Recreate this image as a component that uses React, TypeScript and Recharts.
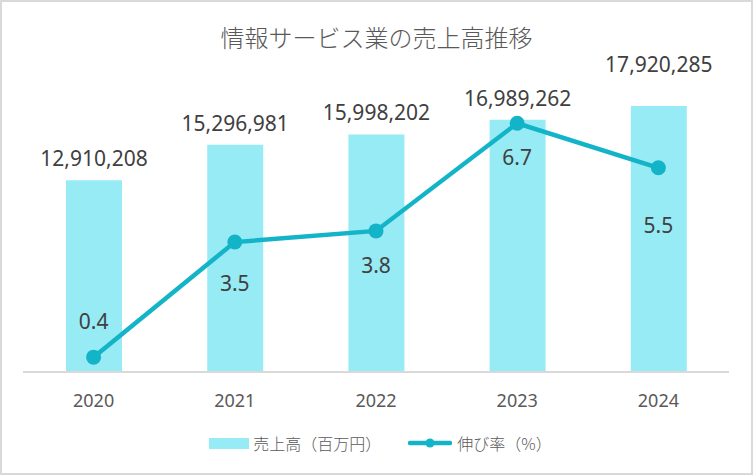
import React from 'react';
import { ComposedChart, Bar, Line, XAxis, YAxis, Legend, LabelList } from 'recharts';

const years = ['2020', '2021', '2022', '2023', '2024'];
const sales = [12910208, 15296981, 15998202, 16989262, 17920285];
const growth = [0.4, 3.5, 3.8, 6.7, 5.5];
const seriesNames = { sales: '売上高（百万円）', growth: '伸び率（%）' };
const legendOrder = ['sales', 'growth'];

// label placement (style only)
const barLabelLift = [22, 22, 22, 22, 42];
const lineLabelShift = [-36, 41, 34, 34, 57];

const data = years.map((year, i) => ({ year, sales: sales[i], growth: growth[i] }));

const numFont = '"Noto Sans", "Noto Sans CJK JP", sans-serif';
const cjkFont = '"Noto Sans CJK JP", "Noto Sans", sans-serif';
const BAR_COLOR = '#97EBF5';
const LINE_COLOR = '#14B4C8';

function BarValueLabel(props: any) {
  const { x, y, width, value, index } = props;
  return (
    <text
      x={Number(x) + Number(width) / 2}
      y={Number(y) - barLabelLift[index]}
      textAnchor="middle"
      dominantBaseline="central"
      fill="#404040"
      fontSize={21}
      fontFamily={numFont}
    >
      {Number(value).toLocaleString('en-US')}
    </text>
  );
}

function LineValueLabel(props: any) {
  const { x, y, value, index } = props;
  return (
    <text
      x={Number(x)}
      y={Number(y) + lineLabelShift[index]}
      textAnchor="middle"
      dominantBaseline="central"
      fill="#404040"
      fontSize={21}
      fontFamily={numFont}
    >
      {Number(value).toFixed(1)}
    </text>
  );
}

function LegendContent(props: any) {
  const payload = [...(props.payload || [])].sort(
    (a: any, b: any) => legendOrder.indexOf(a.dataKey) - legendOrder.indexOf(b.dataKey)
  );
  return (
    <div
      style={{
        display: 'flex',
        justifyContent: 'center',
        alignItems: 'center',
        height: 22,
        fontFamily: cjkFont,
        fontSize: 16,
        fontWeight: 300,
        color: '#595959',
      }}
    >
      {payload.map((entry: any, i: number) => (
        <div
          key={i}
          style={{ display: 'flex', alignItems: 'center', marginLeft: i === 0 ? 0 : 27 }}
        >
          {entry.dataKey === 'sales' ? (
            <span style={{ display: 'inline-block', width: 40, height: 11, background: BAR_COLOR, marginRight: 4 }} />
          ) : (
            <svg width={44} height={12} style={{ marginRight: 5 }}>
              <line x1={2} y1={6} x2={42} y2={6} stroke={LINE_COLOR} strokeWidth={4.5} strokeLinecap="round" />
              <circle cx={22} cy={6} r={4.5} fill={LINE_COLOR} />
            </svg>
          )}
          <span style={{ lineHeight: '22px' }}>{entry.value}</span>
        </div>
      ))}
    </div>
  );
}

export default function App() {
  return (
    <div style={{ position: 'absolute', left: 0, top: 0, width: 753, height: 475, background: '#fff' }}>
      <ComposedChart width={753} height={475} data={data} margin={{ top: 75, right: 24, left: 23, bottom: 0 }}>
        <XAxis
          dataKey="year"
          height={103}
          tickSize={0}
          tickMargin={22}
          tickLine={false}
          axisLine={{ stroke: '#d9d9d9', strokeWidth: 2 }}
          tick={{ fill: '#595959', fontSize: 18, fontFamily: numFont }}
        />
        <YAxis yAxisId="left" hide domain={[0, 20000000]} />
        <YAxis yAxisId="right" orientation="right" hide domain={[0, 8]} />
        <Legend
          verticalAlign="middle"
          align="center"
          layout="horizontal"
          wrapperStyle={{ top: 432, left: 4, width: 753 }}
          content={<LegendContent />}
        />
        <Bar
          yAxisId="left"
          dataKey="sales"
          name={seriesNames.sales}
          fill={BAR_COLOR}
          barSize={56}
          isAnimationActive={false}
        >
          <LabelList dataKey="sales" content={<BarValueLabel />} />
        </Bar>
        <Line
          yAxisId="right"
          type="linear"
          dataKey="growth"
          name={seriesNames.growth}
          stroke={LINE_COLOR}
          strokeWidth={4.5}
          dot={{ r: 7.5, fill: LINE_COLOR, stroke: LINE_COLOR, strokeWidth: 0 }}
          activeDot={false}
          isAnimationActive={false}
        >
          <LabelList dataKey="growth" content={<LineValueLabel />} />
        </Line>
      </ComposedChart>
      <div
        style={{
          position: 'absolute',
          left: 0,
          top: 19,
          width: 753,
          height: 36,
          lineHeight: '36px',
          textAlign: 'center',
          fontFamily: cjkFont,
          fontSize: 24,
          fontWeight: 300,
          color: '#595959',
          pointerEvents: 'none',
        }}
      >
        情報サービス業の売上高推移
      </div>
      <div
        style={{
          position: 'absolute',
          left: 0,
          top: 0,
          width: 753,
          height: 475,
          border: '2px solid #d9d9d9',
          boxSizing: 'border-box',
          pointerEvents: 'none',
        }}
      />
    </div>
  );
}
